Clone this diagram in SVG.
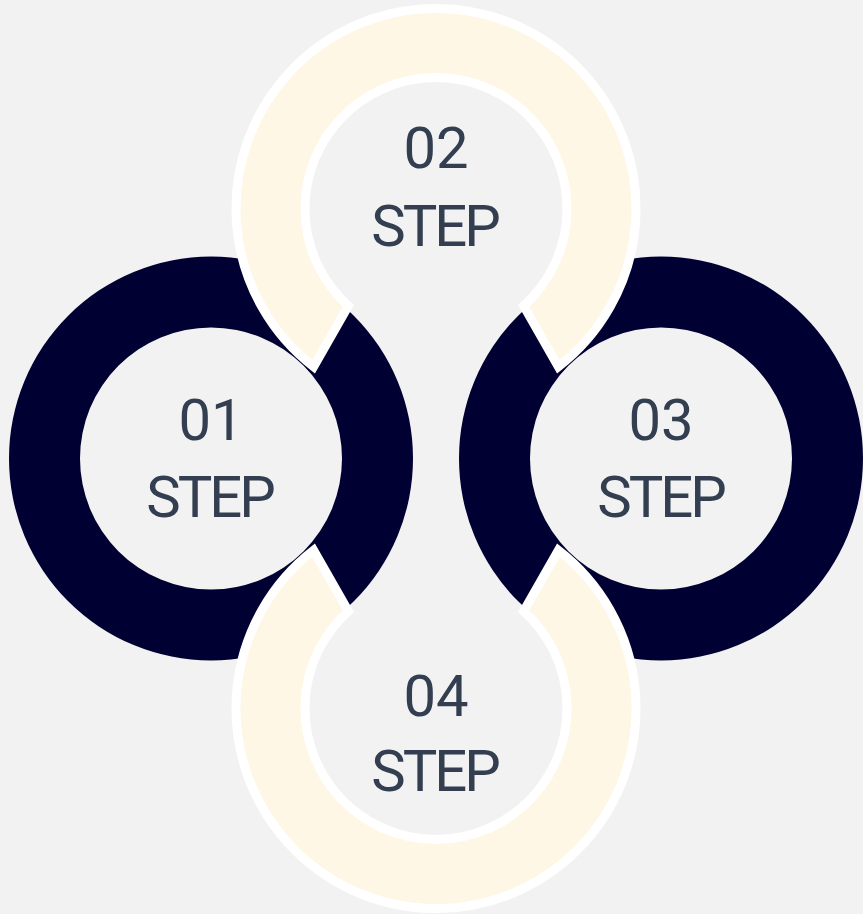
<svg xmlns="http://www.w3.org/2000/svg" width="863" height="914" viewBox="0 0 863 914">
<style>
.navy{fill:#000033;fill-rule:evenodd}
.cream{fill:#FFF7E5;stroke:#FFFFFF;stroke-width:9;stroke-linejoin:miter}
.lbl{font-family:Roboto,"Liberation Sans",sans-serif;font-size:58px;fill:#333F50;text-anchor:middle}
.st{letter-spacing:-3px}
</style>
<rect width="863" height="914" fill="#F2F2F2"/>
<g id="step1">
<path class="navy" d="M9 458.5a202 202 0 1 0 404 0a202 202 0 1 0-404 0ZM80 458.5a131 131 0 1 0 262 0a131 131 0 1 0-262 0Z"/>
<text class="lbl" x="211" y="440">01</text>
<text class="lbl st" x="209.5" y="517">STEP</text>
</g>
<g id="step3">
<path class="navy" d="M459 458.5a202 202 0 1 0 404 0a202 202 0 1 0-404 0ZM530 458.5a131 131 0 1 0 262 0a131 131 0 1 0-262 0Z"/>
<text class="lbl" x="661" y="440">03</text>
<text class="lbl st" x="660.5" y="517">STEP</text>
</g>
<g id="step2">
<path class="cream" d="M313.6 366.7A200 200 0 1 1 558.4 366.7L523.7 305.9A131 131 0 1 0 348.3 305.9Z"/>
<text class="lbl" x="436" y="168">02</text>
<text class="lbl st" x="434.5" y="246">STEP</text>
</g>
<g id="step4">
<path class="cream" d="M313.6 550.3A200 200 0 1 0 558.4 550.3L523.7 611.1A131 131 0 1 1 348.3 611.1Z"/>
<text class="lbl" x="436" y="716">04</text>
<text class="lbl st" x="434.5" y="791">STEP</text>
</g>
<g id="connectors"/>
</svg>
